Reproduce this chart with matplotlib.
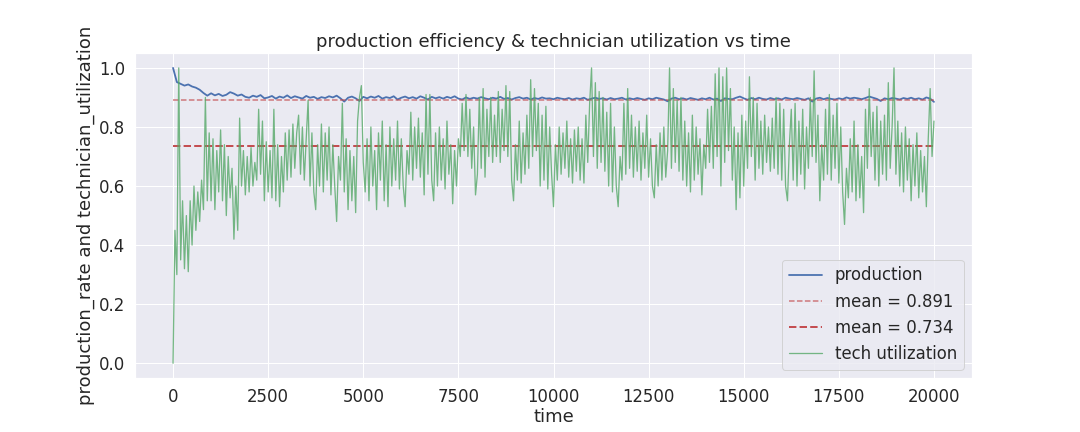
import numpy as np
import matplotlib
matplotlib.use("Agg")
import matplotlib.pyplot as plt
import seaborn as sns

# production rate, sampled every 100 time units (0 .. 20000)
prod_time = np.arange(0, 20001, 100)
production = [
    1.000, 0.952, 0.946, 0.940, 0.944, 0.937, 0.933, 0.926, 0.915, 0.906,
    0.914, 0.907, 0.912, 0.905, 0.909, 0.918, 0.913, 0.906, 0.910, 0.902,
    0.899, 0.906, 0.902, 0.908, 0.897, 0.900, 0.905, 0.896, 0.903, 0.899,
    0.907, 0.898, 0.904, 0.900, 0.896, 0.905, 0.899, 0.902, 0.895, 0.901,
    0.898, 0.904, 0.900, 0.906, 0.897, 0.886, 0.899, 0.903, 0.897, 0.888,
    0.902, 0.897, 0.903, 0.899, 0.905, 0.896, 0.901, 0.898, 0.904, 0.893,
    0.899, 0.903, 0.897, 0.901, 0.896, 0.904, 0.899, 0.893, 0.902, 0.897,
    0.901, 0.896, 0.902, 0.898, 0.904, 0.896, 0.893, 0.900, 0.895, 0.899,
    0.896, 0.901, 0.897, 0.894, 0.899, 0.896, 0.902, 0.895, 0.898, 0.893,
    0.898, 0.901, 0.896, 0.899, 0.893, 0.898, 0.895, 0.900, 0.896, 0.897,
    0.894, 0.899, 0.896, 0.894, 0.898, 0.893, 0.897, 0.895, 0.899, 0.892,
    0.896, 0.899, 0.895, 0.897, 0.893, 0.898, 0.894, 0.896, 0.899, 0.893,
    0.897, 0.894, 0.898, 0.895, 0.892, 0.897, 0.894, 0.899, 0.896, 0.893,
    0.887, 0.896, 0.899, 0.894, 0.897, 0.893, 0.898, 0.895, 0.892, 0.897,
    0.894, 0.899, 0.893, 0.896, 0.888, 0.897, 0.895, 0.894, 0.899, 0.903,
    0.897, 0.892, 0.898, 0.894, 0.899, 0.895, 0.893, 0.898, 0.894, 0.897,
    0.893, 0.899, 0.896, 0.894, 0.898, 0.895, 0.892, 0.897, 0.886, 0.896,
    0.899, 0.894, 0.898, 0.895, 0.893, 0.897, 0.894, 0.900, 0.896, 0.899,
    0.897, 0.894, 0.898, 0.903, 0.899, 0.895, 0.888, 0.897, 0.894, 0.898,
    0.896, 0.893, 0.898, 0.895, 0.899, 0.894, 0.897, 0.893, 0.900, 0.896,
    0.885,
]

# technician utilization, sampled every 50 time units (0 .. 20000)
tech_time = np.arange(0, 20001, 50)
tech_util = [
    0.00, 0.45, 0.30, 1.00, 0.35, 0.55, 0.32, 0.50, 0.31, 0.55, 0.40, 0.60, 0.45, 0.58, 0.48, 0.62, 0.52, 0.90, 0.55, 0.78,
    0.55, 0.76, 0.52, 0.72, 0.58, 0.79, 0.55, 0.74, 0.50, 0.70, 0.56, 0.66, 0.42, 0.60, 0.45, 0.83, 0.60, 0.72, 0.57, 0.70,
    0.58, 0.73, 0.60, 0.68, 0.62, 0.86, 0.64, 0.82, 0.55, 0.75, 0.58, 0.72, 0.56, 0.86, 0.55, 0.74, 0.53, 0.70, 0.58, 0.78,
    0.62, 0.79, 0.63, 0.81, 0.66, 0.78, 0.84, 0.64, 0.80, 0.62, 0.76, 0.89, 0.60, 0.78, 0.58, 0.52, 0.74, 0.60, 0.81, 0.58,
    0.78, 0.62, 0.80, 0.57, 0.74, 0.60, 0.48, 0.70, 0.62, 0.88, 0.58, 0.76, 0.52, 0.72, 0.55, 0.70, 0.51, 0.82, 0.90, 0.94,
    0.68, 0.58, 0.76, 0.55, 0.80, 0.60, 0.72, 0.52, 0.78, 0.62, 0.82, 0.55, 0.74, 0.53, 0.80, 0.60, 0.76, 0.62, 0.82, 0.59,
    0.76, 0.60, 0.53, 0.72, 0.64, 0.85, 0.62, 0.80, 0.66, 0.83, 0.63, 0.78, 0.57, 0.91, 0.64, 0.91, 0.62, 0.55, 0.78, 0.60,
    0.80, 0.62, 0.76, 0.59, 0.82, 0.64, 0.74, 0.54, 0.72, 0.60, 0.76, 0.70, 0.88, 0.72, 0.91, 0.70, 0.86, 0.66, 0.80, 0.57,
    0.64, 0.90, 0.66, 0.93, 0.63, 0.86, 0.70, 0.90, 0.68, 0.84, 0.70, 0.92, 0.68, 0.86, 0.72, 0.94, 0.70, 0.92, 0.62, 0.55,
    0.74, 0.62, 0.82, 0.61, 0.78, 0.64, 0.84, 0.66, 0.96, 0.70, 0.93, 0.72, 0.88, 0.60, 0.84, 0.62, 0.87, 0.59, 0.80, 0.64,
    0.53, 0.74, 0.62, 0.80, 0.64, 0.78, 0.66, 0.82, 0.63, 0.76, 0.61, 0.79, 0.65, 0.80, 0.62, 0.76, 0.61, 0.84, 0.68, 0.88,
    1.00, 0.70, 0.95, 0.66, 0.92, 0.68, 0.90, 0.65, 0.85, 0.60, 0.88, 0.58, 0.80, 0.60, 0.53, 0.70, 0.62, 0.88, 0.64, 0.93,
    0.66, 0.84, 0.63, 0.80, 0.65, 0.82, 0.62, 0.78, 0.66, 0.84, 0.63, 0.76, 0.60, 0.56, 0.74, 0.60, 0.78, 0.62, 0.80, 0.63,
    0.72, 1.00, 0.66, 0.93, 0.68, 0.89, 0.65, 0.90, 0.62, 0.82, 0.60, 0.78, 0.58, 0.84, 0.62, 0.80, 0.64, 0.76, 0.57, 0.74,
    0.66, 0.86, 0.68, 0.87, 0.66, 0.98, 0.70, 1.00, 0.60, 0.97, 0.68, 1.00, 0.72, 0.93, 0.62, 0.80, 0.52, 0.78, 0.56, 0.84,
    0.60, 0.82, 0.66, 0.97, 0.70, 0.90, 0.62, 0.88, 0.66, 0.82, 0.64, 0.84, 0.68, 0.80, 0.65, 0.83, 0.66, 0.90, 0.64, 0.88,
    0.62, 0.86, 0.60, 0.55, 0.74, 0.86, 0.62, 0.88, 0.60, 0.82, 0.64, 0.86, 0.59, 0.80, 0.66, 0.90, 0.70, 0.99, 0.68, 0.84,
    0.55, 0.74, 0.62, 0.86, 0.64, 0.91, 0.62, 0.84, 0.66, 0.88, 0.61, 0.80, 0.58, 0.47, 0.66, 0.56, 0.76, 0.58, 0.82, 0.55,
    0.74, 0.56, 0.70, 0.51, 0.86, 0.66, 0.93, 0.70, 0.85, 0.62, 0.87, 0.60, 0.82, 0.64, 0.84, 0.62, 0.95, 0.66, 0.80, 1.00,
    0.64, 0.82, 0.60, 0.78, 0.58, 0.80, 0.62, 0.76, 0.55, 0.74, 0.60, 0.78, 0.56, 0.72, 0.58, 0.70, 0.53, 0.76, 0.93, 0.70,
    0.82,
]

mean_prod = 0.891
mean_tech = 0.734

sns.set_theme(style="darkgrid", font_scale=1.5)

fig, ax = plt.subplots(figsize=(15, 6), dpi=72)
fig.subplots_adjust(left=0.125, right=0.9, top=0.877, bottom=0.125)
ax.plot(prod_time, production, color="#4C72B0", lw=1.8, label="production")
ax.plot([prod_time[0], prod_time[-1]], [mean_prod, mean_prod], "--", color="#C44E52",
        lw=1.5, alpha=0.75, label="mean = %.3f" % mean_prod)
ax.plot([tech_time[0], tech_time[-1]], [mean_tech, mean_tech], "--", color="#C44E52",
        lw=2, label="mean = %.3f" % mean_tech)
ax.plot(tech_time, tech_util, color="#55A868", lw=1.3, alpha=0.8, label="tech utilization")

ax.set_title("production efficiency & technician utilization vs time")
ax.set_xlabel("time", labelpad=2)
ax.set_ylabel("production_rate and technician_utilization")
ax.legend(loc="lower right")

fig.savefig("out.png")
